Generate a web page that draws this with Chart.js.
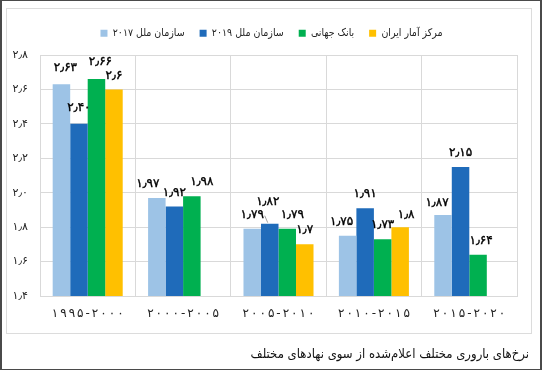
<!DOCTYPE html>
<html><head><meta charset="utf-8">
<script src="https://cdn.jsdelivr.net/npm/chart.js@4.4.0/dist/chart.umd.min.js"></script>
<style>
html,body{margin:0;padding:0;background:#fff;}
#frame{position:absolute;left:0;top:0;width:542px;height:370px;box-sizing:border-box;border:2px solid #4a4a4a;border-top-width:1px;border-bottom-width:1px;}
#panel{position:absolute;left:6px;top:8px;width:526px;height:326px;box-sizing:border-box;border:1px solid #dcdcdc;}
#wrap{position:absolute;left:0;top:0;width:542px;height:370px;}
#caption{position:absolute;right:13px;top:346px;font:13px 'DejaVu Sans Condensed','DejaVu Sans',sans-serif;line-height:16px;direction:rtl;color:#111;white-space:nowrap;}
</style></head><body>
<div id="frame"></div><div id="panel"></div>
<div id="wrap"><canvas id="c" width="542" height="370"></canvas></div>
<div id="caption">نرخ‌های باروری مختلف اعلام‌شده از سوی نهادهای مختلف</div>
<script>
// ---- data ----
const categories = ['1995-2000', '2000-2005', '2005-2010', '2010-2015', '2015-2020'];
const seriesNames = ['سازمان ملل 2017', 'سازمان ملل 2019', 'بانک جهانی', 'مرکز آمار ایران'];
const un2017 = [2.63, 1.97, 1.79, 1.75, 1.87];
const un2019 = [2.40, 1.92, 1.82, 1.91, 2.15];
const worldBank = [2.66, 1.98, 1.79, 1.73, 1.64];
const iranStats = [2.6, null, 1.7, 1.8, null];
const yTickValues = [1.4, 1.6, 1.8, 2.0, 2.2, 2.4, 2.6, 2.8];

// ---- helpers ----
const faDigits = '۰۱۲۳۴۵۶۷۸۹';
function fa(s) {
  return String(s).replace(/[0-9]/g, d => faDigits[+d]).replace(/\./g, '٫');
}
// spaced-out rendering of the period labels (six-per-em spaces between characters)
function spaced(s) { return Array.from(s).join('\u2006'); }

const colors = ['#9DC3E6', '#1F6BBA', '#00B050', '#FFC000'];
const labelDecimals = [2, 2, 2, 1];
const seriesData = [un2017, un2019, worldBank, iranStats];

const FONT = "'DejaVu Sans', sans-serif";
const CFONT = "'DejaVu Sans Condensed', 'DejaVu Sans', sans-serif";

const valueLabels = {
  id: 'valueLabels',
  afterDatasetsDraw(chart, args, opts) {
    const ctx = chart.ctx;
    ctx.save();
    ctx.font = '12px ' + FONT;
    ctx.fillStyle = '#000';
    ctx.strokeStyle = '#000';
    ctx.lineWidth = 0.4;
    ctx.textAlign = 'center';
    ctx.textBaseline = 'middle';
    chart.data.datasets.forEach((ds, di) => {
      const meta = chart.getDatasetMeta(di);
      meta.data.forEach((el, i) => {
        const v = ds.data[i];
        if (v === null || v === undefined) return;
        const n = (opts.nudge[di + ':' + i]) || {};
        const x = el.x + (n.dx || 0);
        const y = el.y - opts.gap + (n.dy || 0);
        if (n.leader) {
          ctx.save();
          ctx.strokeStyle = '#a0a0a0';
          ctx.lineWidth = 1;
          ctx.beginPath();
          ctx.moveTo(x - 3, y + 14);
          ctx.lineTo(x, el.y - 1);
          ctx.stroke();
          ctx.restore();
        }
        const t = fa(v.toFixed(labelDecimals[di]));
        ctx.fillText(t, x, y);
        ctx.strokeText(t, x, y);
      });
    });
    ctx.restore();
  }
};

const legendTweak = {
  id: 'legendTweak',
  beforeInit(chart) {
    const fit = chart.legend.fit;
    chart.legend.fit = function () { fit.bind(chart.legend)(); this.height += 6.5; };
  },
  afterLayout(chart) {
    chart.legend.left += 8;
    chart.legend.right += 8;
  }
};

new Chart(document.getElementById('c'), {
  type: 'bar',
  data: {
    labels: categories.map(fa),
    datasets: seriesData.map((d, i) => ({
      label: fa(seriesNames[i]),
      data: d,
      backgroundColor: colors[i],
      borderWidth: 0,
      categoryPercentage: 0.734,
      barPercentage: 1.0
    }))
  },
  options: {
    responsive: false,
    devicePixelRatio: 1,
    animation: false,
    layout: { padding: { left: 10, right: 25, top: 13, bottom: 34 } },
    scales: {
      x: {
        grid: { color: '#d9d9d9', drawTicks: false, offset: true },
        border: { color: '#d9d9d9' },
        ticks: { color: '#222', padding: 11, font: { family: FONT, size: 12 }, maxRotation: 0,
          callback(v, i) { return spaced(this.getLabelForValue(v)); } },
        afterFit(s) { s.height = 40; }
      },
      y: {
        min: 1.4, max: 2.8,
        afterBuildTicks(s) { s.ticks = yTickValues.map(v => ({ value: v })); },
        grid: { color: '#d9d9d9', drawTicks: false },
        border: { color: '#d9d9d9' },
        ticks: { color: '#222', padding: 12, font: { family: FONT, size: 11 },
          callback: v => fa(Number(v).toFixed(1)) },
        afterFit(s) { s.width = 30; }
      }
    },
    plugins: {
      legend: {
        position: 'top',
        labels: { boxWidth: 7, boxHeight: 7, padding: 15, color: '#222', font: { family: CFONT, size: 10.5 } }
      },
      tooltip: { enabled: false },
      valueLabels: {
        gap: 14,
        nudge: {
          '0:0': { dx: 4, dy: -2 }, '1:0': { dy: -2 }, '2:0': { dx: 4, dy: -3 },
          '0:1': { dx: -9 }, '2:1': { dx: 10 },
          '1:2': { dx: -2, dy: -8, leader: true }, '2:2': { dx: 5 },
          '0:3': { dx: -6 }, '3:3': { dx: 6, dy: 2 },
          '0:4': { dx: -6, dy: 2 }, '2:4': { dx: 3 }
        }
      }
    }
  },
  plugins: [valueLabels, legendTweak]
});
</script>
</body></html>
